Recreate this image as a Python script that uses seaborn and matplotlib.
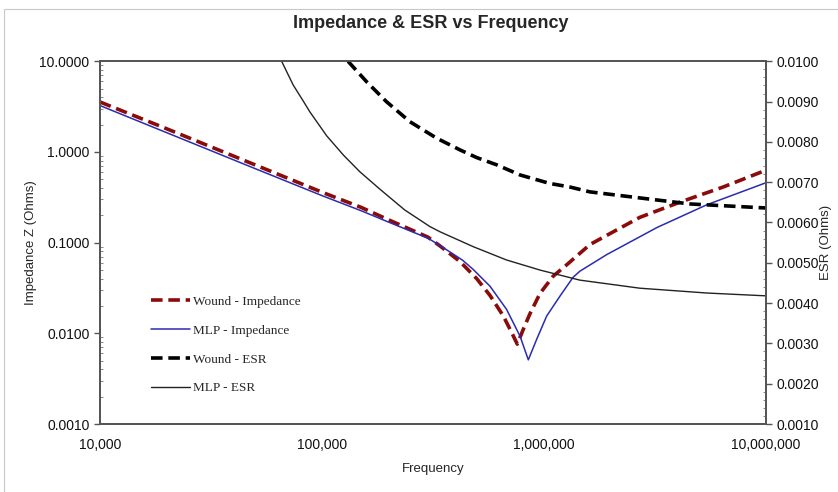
import numpy as np

import matplotlib

matplotlib.use("Agg")

import matplotlib.pyplot as plt

import matplotlib.ticker as mticker

from matplotlib.lines import Line2D

from matplotlib.patches import Rectangle

import seaborn as sns


# ==========================================
# DATA
# ==========================================

wound_z_freq = [
    1e4, 2e4, 5e4, 1e5, 1.5e5, 2e5, 3e5, 3.4e5, 4.18e5, 4.98e5, 5.71e5,
    6.56e5, 7.15e5, 7.58e5, 8.07e5, 8.65e5, 9.59e5, 1.10e6, 1.27e6,
    1.61e6, 2.7e6, 4.1e6, 6.4e6, 1e7
]

wound_z = [
    3.56, 1.80, 0.72, 0.36, 0.245, 0.178, 0.115, 0.092, 0.062, 0.040, 0.0262,
    0.0155, 0.0102, 0.0076, 0.0111, 0.0165, 0.0275, 0.0427, 0.0574,
    0.0953, 0.19, 0.28, 0.41, 0.63
]

mlp_z_freq = [
    1e4, 2e4, 5e4, 1e5, 1.5e5, 2e5, 3e5, 3.4e5, 4.3e5, 4.8e5, 5.71e5,
    6.78e5, 7.8e5, 8.5e5, 9.27e5, 1.028e6, 1.18e6, 1.35e6, 1.45e6,
    1.92e6, 3.23e6, 5.42e6, 1e7
]

mlp_z = [
    3.25, 1.63, 0.655, 0.33, 0.225, 0.168, 0.112, 0.093, 0.064, 0.0506, 0.0331,
    0.0184, 0.0093, 0.0051, 0.0086, 0.0155, 0.0257, 0.0413, 0.0484,
    0.074, 0.147, 0.262, 0.458
]

wound_esr_freq = [
    1.31e5, 1.59e5, 1.95e5, 2.49e5, 3.29e5, 4.19e5, 4.98e5, 6.13e5,
    7.8e5, 1.06e6, 1.31e6, 1.61e6, 2.70e6, 4.55e6, 1e7
]

wound_esr = [
    0.0100, 0.00949, 0.00900, 0.00850, 0.00809, 0.00780, 0.00761, 0.00743,
    0.00718, 0.00697, 0.00688, 0.00676, 0.00661, 0.00646, 0.00636
]

mlp_esr_freq = [
    6.58e4, 7.42e4, 8.24e4, 8.83e4, 1.05e5, 1.25e5, 1.48e5, 1.82e5,
    2.36e5, 3.06e5, 3.40e5, 4.80e5, 6.78e5, 9.59e5, 1.45e6, 2.70e6,
    5.42e6, 1e7
]

mlp_esr = [
    0.0100, 0.00941, 0.00901, 0.00874, 0.00815, 0.00767, 0.00726, 0.00683,
    0.00631, 0.00590, 0.00577, 0.00540, 0.00507, 0.00482, 0.00457, 0.00437,
    0.00425, 0.00418
]


# ==========================================
# STYLE
# ==========================================

sns.set_style("white")

plt.rcParams["font.family"] = ["Liberation Sans", "DejaVu Sans"]

red = "#8B0A0A"
blue = "#2B2BB0"
spine_color = "#555555"

wound_dash = (0, (3.2, 1.6))


# ==========================================
# FIGURE
# ==========================================

fig = plt.figure(figsize=(8.38, 4.92), dpi=100)

fig.patches.append(
    Rectangle(
        (4 / 838, -0.01), 1.0, 1 - 9 / 492 + 0.01,
        transform=fig.transFigure, fill=False,
        edgecolor="#c8c8c8", linewidth=0.8
    )
)

ax = fig.add_axes([100 / 838, 1 - 424 / 492, 666 / 838, 362.7 / 492])

ax2 = ax.twinx()


# ------------------------------------------
# IMPEDANCE (left axis)
# ------------------------------------------

sns.lineplot(
    x=wound_z_freq, y=wound_z, ax=ax, color=red,
    linewidth=2.6, linestyle=wound_dash
)

sns.lineplot(
    x=mlp_z_freq, y=mlp_z, ax=ax, color=blue, linewidth=1.1
)

# ------------------------------------------
# ESR (right axis)
# ------------------------------------------

sns.lineplot(
    x=wound_esr_freq, y=wound_esr, ax=ax2, color="black",
    linewidth=2.6, linestyle=wound_dash
)

sns.lineplot(
    x=mlp_esr_freq, y=mlp_esr, ax=ax2, color="#222222", linewidth=1.0
)


# ==========================================
# AXES
# ==========================================

ax.set_xscale("log")
ax.set_yscale("log")

ax.set_xlim(1e4, 1e7)
ax.set_ylim(0.001, 10)
ax2.set_ylim(0.001, 0.010)

ax.xaxis.set_major_locator(mticker.LogLocator(base=10, numticks=10))
ax.xaxis.set_minor_locator(
    mticker.LogLocator(base=10, subs=np.arange(2, 10), numticks=100)
)
ax.xaxis.set_major_formatter(
    mticker.FuncFormatter(lambda v, p: f"{v:,.0f}")
)
ax.xaxis.set_minor_formatter(mticker.NullFormatter())

ax.yaxis.set_major_locator(mticker.LogLocator(base=10, numticks=10))
ax.yaxis.set_minor_locator(
    mticker.LogLocator(base=10, subs=np.arange(2, 10), numticks=100)
)
ax.yaxis.set_major_formatter(
    mticker.FuncFormatter(lambda v, p: f"{v:.4f}")
)
ax.yaxis.set_minor_formatter(mticker.NullFormatter())

ax2.yaxis.set_major_locator(mticker.MultipleLocator(0.001))
ax2.yaxis.set_minor_locator(mticker.MultipleLocator(0.0002))
ax2.yaxis.set_major_formatter(
    mticker.FuncFormatter(lambda v, p: f"{v:.4f}")
)

for axis in (ax, ax2):

    for spine in axis.spines.values():
        spine.set_color(spine_color)
        spine.set_linewidth(1.3)

    axis.tick_params(
        which="major", direction="out", length=4, width=1,
        color=spine_color, labelsize=10, labelcolor="#111111"
    )

    axis.tick_params(
        which="minor", direction="in", length=2.5, width=0.7,
        color="#888888"
    )

ax.tick_params(axis="x", pad=6)

ax.set_xlabel("Frequency", fontsize=9.5, labelpad=8)
ax.set_ylabel("Impedance Z (Ohms)", fontsize=9.5, labelpad=2)
ax2.set_ylabel("ESR (Ohms)", fontsize=9.5, labelpad=1)

fig.text(
    431 / 838, 1 - 23 / 492, "Impedance & ESR vs Frequency",
    ha="center", va="center", fontsize=13, fontweight="bold"
)


# ==========================================
# LEGEND
# ==========================================

handles = [
    Line2D([], [], color=red, linewidth=2.6, linestyle=wound_dash),
    Line2D([], [], color=blue, linewidth=1.1),
    Line2D([], [], color="black", linewidth=2.6, linestyle=wound_dash),
    Line2D([], [], color="#222222", linewidth=1.0),
]

labels = [
    "Wound - Impedance",
    "MLP - Impedance",
    "Wound - ESR",
    "MLP - ESR",
]

ax2.legend(
    handles, labels,
    loc="upper left",
    bbox_to_anchor=(139 / 838, 1 - 284 / 492),
    bbox_transform=fig.transFigure,
    frameon=False,
    handlelength=3.0,
    handletextpad=0.2,
    labelspacing=1.25,
    prop={"family": ["Liberation Serif", "DejaVu Serif"], "size": 9.5}
)

fig.savefig("out.png", dpi=100)
